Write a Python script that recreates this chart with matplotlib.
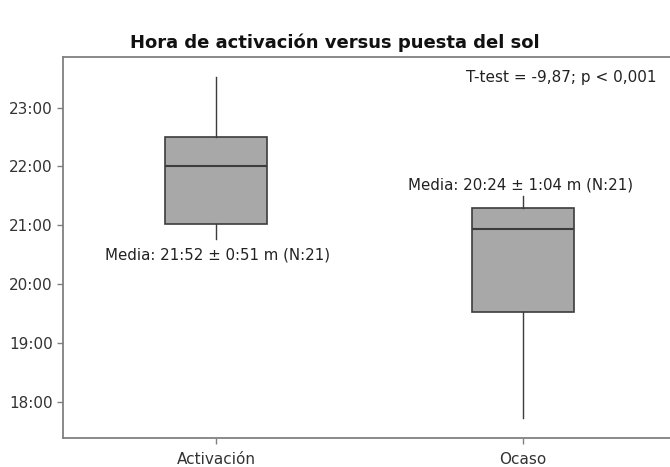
import numpy as np
import matplotlib
matplotlib.use("Agg")
import matplotlib.pyplot as plt
from matplotlib.ticker import FuncFormatter

# datos (horas decimales)
grupos = ["Activación", "Ocaso"]
bigote_inf = [20.767, 17.72]
q1 = [21.017, 19.526]
mediana = [22.014, 20.94]
q3 = [22.507, 21.30]
bigote_sup = [23.527, 21.503]
etiquetas = ["Media: 21:52 ± 0:51 m (N:21)", "Media: 20:24 ± 1:04 m (N:21)"]
ttest = "T-test = -9,87; p < 0,001"

plt.rcParams['font.family'] = ['DejaVu Sans']

fig = plt.figure(figsize=(6.7, 4.67), dpi=100)
ax = fig.add_axes([63 / 670, 1 - 437.7 / 467, 607 / 670, (437.7 - 57) / 467])

stats = []
for i, g in enumerate(grupos):
    stats.append(dict(label=g, whislo=bigote_inf[i], q1=q1[i], med=mediana[i],
                      q3=q3[i], whishi=bigote_sup[i], fliers=[]))

ax.bxp(stats, positions=[0, 1], widths=0.333, patch_artist=True, showcaps=False,
       boxprops=dict(facecolor="#a8a8a8", edgecolor="#3c3c3c", linewidth=1.2),
       medianprops=dict(color="#3c3c3c", linewidth=1.5),
       whiskerprops=dict(color="#3c3c3c", linewidth=1.0))

ax.set_xlim(-0.498, 1.479)
ax.set_ylim(17.388, 23.862)
ax.set_yticks(np.arange(18, 24))
ax.yaxis.set_major_formatter(FuncFormatter(lambda v, p: f"{int(round(v))}:00"))

for s in ["top", "left", "bottom"]:
    ax.spines[s].set_color("#808080")
    ax.spines[s].set_linewidth(1.3)
ax.spines["right"].set_visible(False)
ax.tick_params(axis="both", colors="#808080", length=4, width=1, labelsize=11,
               labelcolor="#333333")
ax.tick_params(axis="x", pad=6)

ax.text(1.124, 23.52, ttest, ha="center", va="center", fontsize=11, color="#222222")
ax.text(0.006, 20.5, etiquetas[0], ha="center", va="center", fontsize=10.8, color="#222222")
ax.text(0.992, 21.69, etiquetas[1], ha="center", va="center", fontsize=10.8, color="#222222")

fig.text(335 / 670, 1 - 43 / 467, "Hora de activación versus puesta del sol",
         ha="center", va="center", fontsize=13, fontweight="bold", color="#111111")

fig.savefig("out.png", dpi=100)
